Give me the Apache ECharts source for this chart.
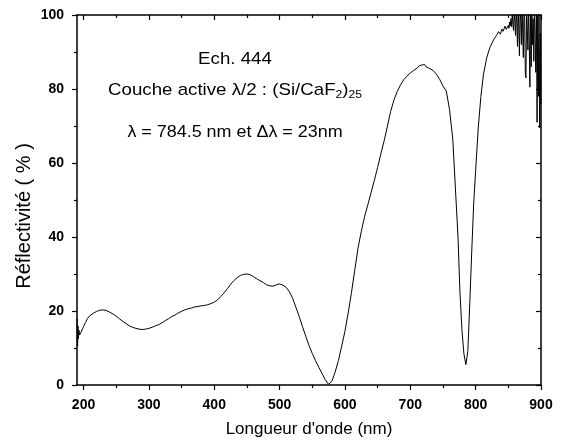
<!DOCTYPE html>
<html lang="fr">
<head>
    <meta charset="utf-8">
    <script src="https://cdn.jsdelivr.net/npm/echarts@6/dist/echarts.min.js"></script>
    <title></title>
</head>
<body style="margin:0;background:#fff;">
<div id="main" style="width: 565px;height:443px;"></div>
<script type="text/javascript">
    // longueur d'onde (nm) et réflectivité (%)
    var wavelength = [
        190, 190.5, 191, 191.5, 192, 193, 194, 195, 196, 198,
        200, 203, 206, 210, 215, 220, 225, 230, 235, 240,
        245, 250, 255, 260, 265, 270, 275, 280, 285, 290,
        295, 300, 305, 310, 315, 320, 325, 330, 335, 340,
        345, 350, 355, 360, 365, 370, 375, 380, 385, 390,
        395, 400, 405, 410, 415, 420, 425, 430, 435, 440,
        445, 450, 455, 460, 465, 470, 475, 480, 485, 490,
        495, 500, 505, 510, 515, 520, 525, 530, 535, 540,
        545, 550, 555, 560, 565, 570, 575, 578, 580, 585,
        590, 595, 600, 605, 610, 615, 620, 625, 630, 635,
        640, 645, 650, 655, 660, 665, 670, 675, 680, 685,
        690, 695, 700, 705, 710, 712, 714, 716, 718, 720,
        722, 724, 726, 728, 730, 735, 740, 745, 750, 755,
        760, 765, 770, 773, 776, 779, 782, 785, 788, 791,
        794, 797, 800, 804, 808, 812, 817, 822, 828, 832,
        835, 838, 840, 842, 845, 847, 850, 851, 852, 853,
        854, 855, 856, 857, 858, 859, 860, 861, 862, 863,
        864, 865, 866, 867, 868, 869, 870, 871, 872, 873,
        874, 875, 876, 877, 878, 879, 880, 881, 882, 883,
        884, 885, 886, 887, 888, 889, 890, 891, 892, 893,
        894, 895, 896, 897, 898, 899, 900
    ];
    var reflectance = [
        18.0, 12.0, 10.5, 16.0, 12.5, 14.8, 13.5, 13.6, 14.2, 14.3,
        15.8, 16.9, 18.0, 18.8, 19.4, 19.9, 20.2, 20.3, 20.1, 19.7,
        19.2, 18.6, 17.9, 17.2, 16.6, 16.0, 15.6, 15.3, 15.1, 15.0,
        15.1, 15.3, 15.6, 16.0, 16.3, 16.8, 17.4, 17.9, 18.5, 18.9,
        19.5, 19.9, 20.3, 20.6, 20.8, 21.1, 21.2, 21.4, 21.5, 21.7,
        22.0, 22.4, 23.0, 23.9, 24.9, 26.0, 27.2, 28.2, 29.0, 29.6,
        29.9, 30.0, 29.8, 29.3, 28.7, 28.2, 27.7, 27.1, 26.8, 26.7,
        27.1, 27.3, 27.0, 26.4, 25.2, 23.4, 21.0, 18.5, 15.8, 13.2,
        10.7, 8.5, 6.6, 4.8, 3.1, 1.4, 0.2, 0.3, 1.0, 3.5,
        6.6, 10.5, 14.5, 19.5, 25.0, 31.0, 37.0, 41.5, 45.5, 48.7,
        52.0, 55.3, 58.8, 62.5, 66.0, 70.0, 74.0, 77.0, 79.3, 81.1,
        82.5, 83.5, 84.3, 85.0, 85.6, 85.5, 86.3, 85.9, 86.5, 86.1,
        86.6, 86.0, 86.3, 85.7, 85.8, 85.0, 84.0, 82.6, 80.8, 79.5,
        74.5, 66.5, 50.0, 40.0, 25.0, 15.0, 8.5, 5.5, 9.0, 22.0,
        36.0, 49.0, 58.0, 69.5, 78.0, 84.0, 88.5, 91.3, 93.5, 94.5,
        95.5, 94.8, 96.2, 95.6, 97.0, 96.1, 97.2, 96.4, 98.1, 97.0,
        99.0, 96.8, 100.5, 97.5, 95.8, 101.0, 98.2, 94.5, 102.0, 97.8,
        91.5, 103.0, 96.5, 89.0, 101.5, 98.5, 92.0, 104.0, 95.0, 88.5,
        102.0, 99.0, 84.0, 83.0, 103.0, 96.0, 90.5, 104.0, 93.0, 80.5,
        101.0, 86.0, 104.0, 92.0, 99.0, 87.5, 103.0, 94.0, 84.5, 102.0,
        71.0, 100.0, 78.0, 104.0, 69.5, 95.0, 76.0
    ];
    var xMajorTicks = [200, 300, 400, 500, 600, 700, 800, 900];
    var xMinorTicks = [250, 350, 450, 550, 650, 750, 850];

    var points = wavelength.map(function (w, i) { return [w, reflectance[i]]; });

    var font = 'Liberation Sans, Arial, sans-serif';
    var myChart = echarts.init(document.getElementById('main'));

    function xAxisDef(pos, ticks, len, inside, main) {
        return {
            type: 'value', position: pos, min: 190, max: 900,
            axisLine: {show: main, lineStyle: {color: '#000', width: 1.5}},
            axisTick: {show: true, customValues: ticks, length: len, inside: inside,
                lineStyle: {color: '#000', width: 1.2}},
            axisLabel: main && pos === 'bottom' ? {
                customValues: xMajorTicks, margin: 13, color: '#000',
                fontFamily: font, fontWeight: 'bold', fontSize: 14
            } : {show: false},
            splitLine: {show: false},
            name: main && pos === 'bottom' ? "Longueur d'onde (nm)" : '',
            nameLocation: 'middle', nameGap: 36,
            nameTextStyle: {fontFamily: font, fontSize: 17, color: '#000'}
        };
    }
    function yAxisDef(pos, inside, main) {
        return {
            type: 'value', position: pos, min: 0, max: 100, interval: 20,
            axisLine: {show: true, lineStyle: {color: '#000', width: 1.5}},
            axisTick: {show: true, length: 5, inside: inside, lineStyle: {color: '#000', width: 1.2}},
            minorTick: {show: true, splitNumber: 2, length: 3, lineStyle: {color: '#000', width: 1.2}},
            axisLabel: main ? {margin: 13, color: '#000', fontFamily: font, fontWeight: 'bold', fontSize: 14}
                : {show: false},
            splitLine: {show: false}
        };
    }

    var option = {
        backgroundColor: '#fff',
        animation: false,
        grid: {left: 77, right: 24, top: 15, bottom: 58},
        xAxis: [
            xAxisDef('bottom', xMajorTicks, 5, false, true),
            xAxisDef('bottom', xMinorTicks, 3, false, false),
            xAxisDef('top', xMajorTicks, 5, true, true),
            xAxisDef('top', xMinorTicks, 3, true, false)
        ],
        yAxis: [
            yAxisDef('left', false, true),
            yAxisDef('right', true, false)
        ],
        graphic: [
            {type: 'text', x: 24, y: 216, rotation: Math.PI / 2, style: {
                text: 'Réflectivité ( % )', align: 'center', verticalAlign: 'middle',
                font: '20px ' + font, fill: '#000'}},
            {type: 'text', x: 235, y: 59, scaleX: 1.1, style: {
                text: 'Ech. 444', align: 'center', verticalAlign: 'middle',
                font: '17px ' + font, fill: '#000'}},
            {type: 'text', x: 235, y: 90, scaleX: 1.1, style: {
                text: 'Couche active λ/2 : (Si/CaF{sub|2}){sub|25}', align: 'center', verticalAlign: 'middle',
                font: '17px ' + font, fill: '#000',
                rich: {sub: {fontSize: 11, fontFamily: font, padding: [9, 0, 0, 0], fill: '#000'}}}},
            {type: 'text', x: 235, y: 133, scaleX: 1.12, style: {
                text: 'λ = 784.5 nm et Δλ = 23nm', align: 'center', verticalAlign: 'middle',
                font: '16px ' + font, fill: '#000'}}
        ],
        series: [{
            type: 'line',
            data: points,
            xAxisIndex: 0,
            yAxisIndex: 0,
            showSymbol: false,
            clip: true,
            lineStyle: {color: '#000', width: 1}
        }]
    };
    myChart.setOption(option);
</script>
</body>
</html>
